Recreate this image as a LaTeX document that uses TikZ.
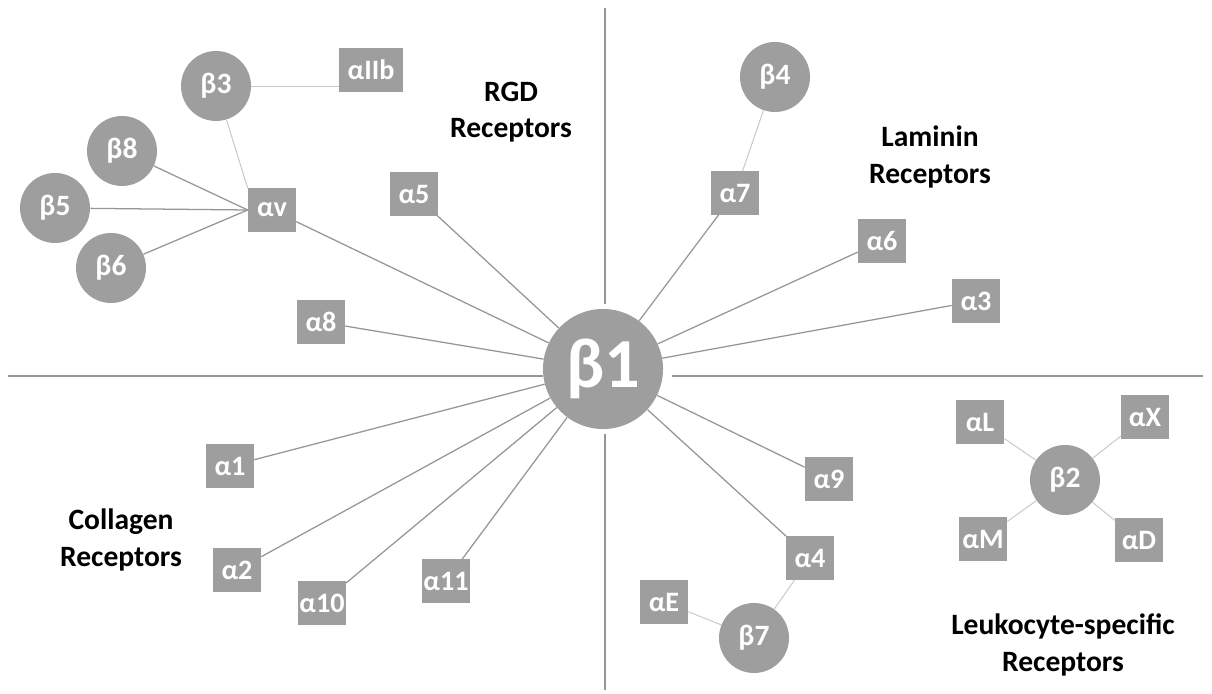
\documentclass[tikz,border=0pt]{standalone}
\usepackage{fontspec}
\setmainfont{Carlito}
\usepackage{xcolor}
\definecolor{recgray}{RGB}{158,158,158}
\definecolor{linkgray}{RGB}{150,150,150}
\definecolor{pairgray}{RGB}{200,200,200}

\begin{document}
\begin{tikzpicture}[x=0.025cm,y=-0.025cm,
  alphabox/.style={rectangle,fill=recgray,text=white,font=\fontsize{20}{23}\selectfont\bfseries,minimum width=1.2cm,minimum height=1.075cm,inner sep=0pt},
  betadisc/.style={circle,fill=recgray,text=white,font=\fontsize{21}{24}\selectfont\bfseries,minimum size=1.75cm,inner sep=0pt},
  grouplabel/.style={align=center,font=\fontsize{21}{26}\selectfont\bfseries},
  quadline/.style={draw=linkgray,line width=1.4pt},
  spoke/.style={draw=linkgray,line width=0.9pt},
  pairline/.style={draw=pairgray,line width=0.7pt}]
\useasboundingbox (0,0) rectangle (1212,694);

\node[betadisc,minimum size=3cm,font=\fontsize{50}{56}\selectfont\bfseries] (b1) at (603,369) {β1};

\node[betadisc] (b3) at (216,86) {β3};
\node[alphabox,minimum width=1.575cm] (aIIb) at (371,70) {αIIb};
\node[betadisc] (b8) at (122,151) {β8};
\node[betadisc] (b5) at (55,208) {β5};
\node[betadisc] (b6) at (111,268) {β6};
\node[alphabox] (av) at (272,210) {αv};
\node[alphabox] (a5) at (414,194) {α5};
\node[alphabox] (a8) at (321,322) {α8};
\node[grouplabel] (rgd) at (511,112) {RGD\\Receptors};

\node[betadisc] (b4) at (775,77) {β4};
\node[alphabox] (a7) at (735,193) {α7};
\node[alphabox] (a6) at (882,241) {α6};
\node[alphabox] (a3) at (976,301) {α3};
\node[grouplabel] (lam) at (930,157) {Laminin\\Receptors};

\node[alphabox] (a1) at (230,466) {α1};
\node[alphabox] (a2) at (237,570) {α2};
\node[alphabox] (a10) at (322,603) {α10};
\node[alphabox] (a11) at (446,581) {α11};
\node[grouplabel] (col) at (121,540) {Collagen\\Receptors};

\node[alphabox] (a9) at (829,479) {α9};
\node[alphabox] (a4) at (810,558) {α4};
\node[alphabox] (aE) at (664,602) {αE};
\node[betadisc] (b7) at (754,638) {β7};

\node[betadisc] (b2) at (1065,480) {β2};
\node[alphabox] (aL) at (980,422) {αL};
\node[alphabox] (aX) at (1145,417) {αX};
\node[alphabox] (aM) at (983,539) {αM};
\node[alphabox] (aD) at (1139,540) {αD};
\node[grouplabel] (leu) at (1063,645) {Leukocyte-specific\\Receptors};

\coordinate (qW) at (8,376);
\coordinate (qE) at (1203,376);
\coordinate (qN) at (605,8);
\coordinate (qS) at (605,690);
\draw[quadline] (qW) -- (qW -| b1.west);
\draw[quadline,shorten <=6pt] (qE -| b1.east) -- (qE);
\draw[quadline,shorten >=3pt] (qN) -- (qN |- b1.north);
\draw[quadline,shorten <=3pt] (qS |- b1.south) -- (qS);

\foreach \a in {av,a5,a8,a7,a6,a3,a1,a2,a10,a11,a9,a4}
  \draw[spoke] (b1) -- (\a);

\foreach \b in {b8,b5,b6}
  \draw[spoke] (\b) -- (av.west);
\draw[pairline] (b3) -- (av.north west);
\draw[pairline] (b3.east) -- (aIIb.west |- b3.east);
\draw[pairline] (b4) -- (a7);
\draw[pairline] (a4) -- (b7);
\draw[pairline] (aE) -- (b7);
\foreach \a in {aL,aX,aM,aD}
  \draw[pairline] (b2) -- (\a);
\end{tikzpicture}
\end{document}
